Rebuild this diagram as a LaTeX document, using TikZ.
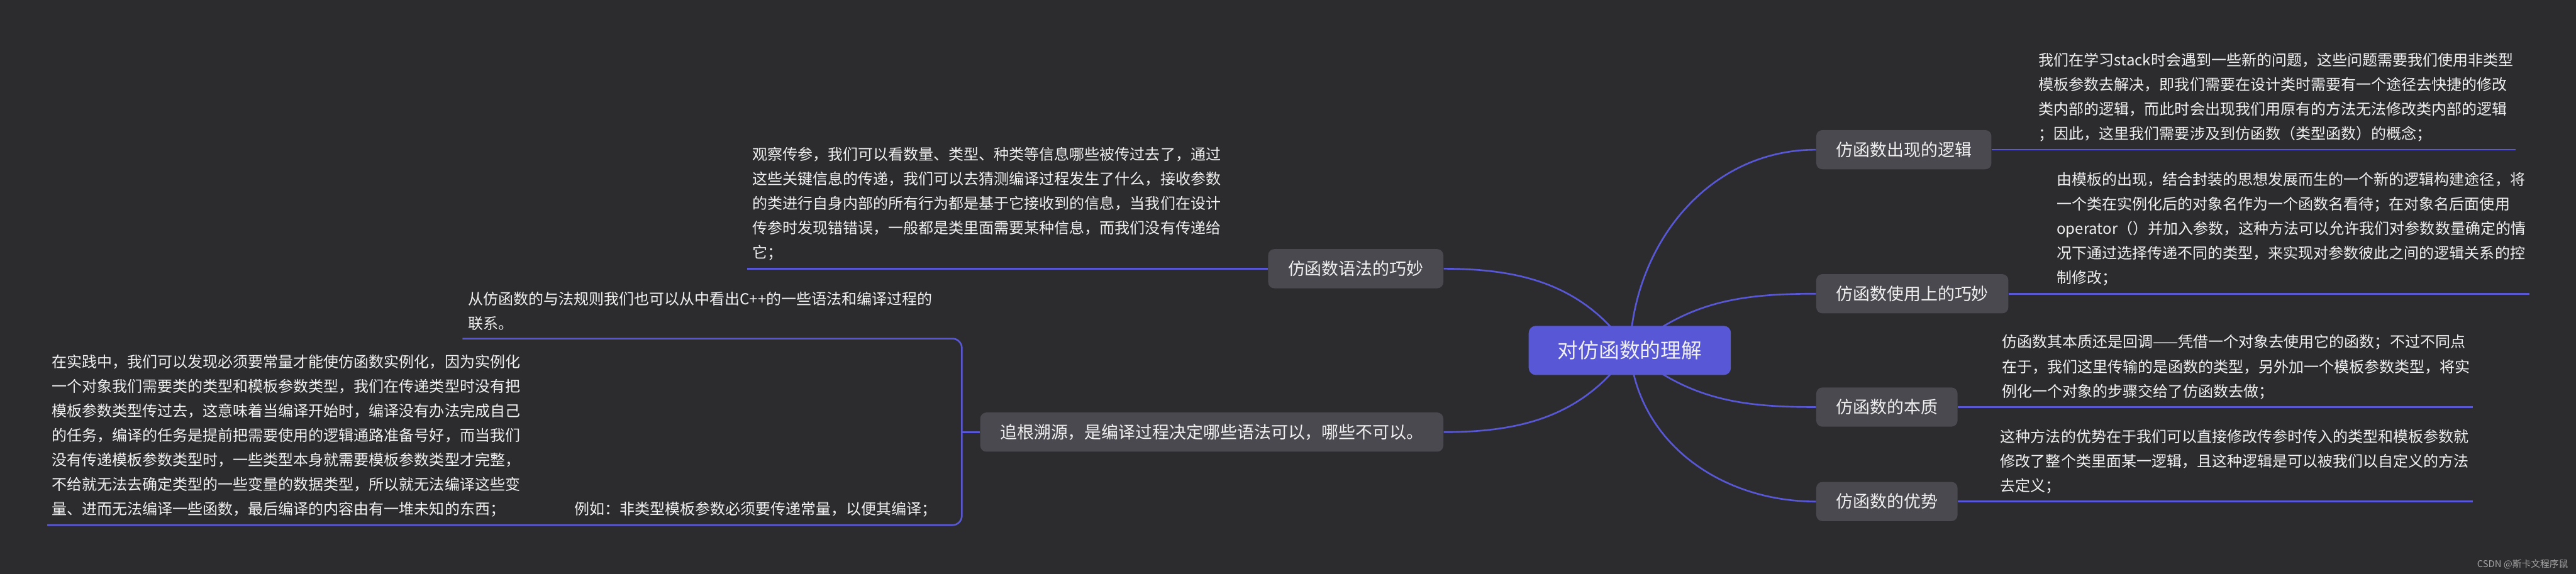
\documentclass[tikz,border=0pt]{standalone}
\usepackage{fontspec}
\setmainfont{Noto Sans CJK SC}
\usepackage{tikz}

\definecolor{bgdark}{RGB}{44,44,47}
\definecolor{rootblue}{RGB}{88,87,214}
\definecolor{boxgray}{RGB}{74,73,79}
\definecolor{inkwhite}{RGB}{240,240,240}
\definecolor{markgray}{RGB}{165,165,165}

\begin{document}
\begin{tikzpicture}[
    link/.style={rootblue, line width=1pt},
    root/.style={fill=rootblue, rounded corners=0.15cm, text=inkwhite,
      minimum width=4.28cm, minimum height=1.04cm, font=\fontsize{12.4pt}{14pt}\selectfont},
    branch/.style={fill=boxgray, rounded corners=0.13cm, text=inkwhite,
      minimum height=0.83cm, inner xsep=0.42cm, font=\fontsize{10.2pt}{12pt}\selectfont},
    leaf/.style={anchor=south west, align=left, inner sep=0pt, text=inkwhite,
      font=\fontsize{9.1pt}{14.8pt}\selectfont}]
    % Canvas with the reference's margins.
    \fill[bgdark] (0,0) rectangle (54.53,-12.15);
    \useasboundingbox (0,0) rectangle (54.53,-12.15);
    \coordinate (c) at (34.50,-7.42);

    % First-level topics.
    \node[branch, anchor=west] (logic) at (38.44,-3.17) {仿函数出现的逻辑};
    \node[branch, anchor=west] (usage) at (38.44,-6.22) {仿函数使用上的巧妙};
    \node[branch, anchor=west] (nature) at (38.44,-8.62) {仿函数的本质};
    \node[branch, anchor=west] (merit) at (38.44,-10.62) {仿函数的优势};
    \node[branch, anchor=east] (syntax) at (30.56,-5.69) {仿函数语法的巧妙};
    \node[branch, anchor=east, minimum width=9.72cm] (origin) at (30.56,-9.15)
      {追根溯源，是编译过程决定哪些语法可以，哪些不可以。};

    % Curved links out of the central topic.
    \draw[link] (c) to[out=88, in=180] (logic.west);
    \draw[link] (c) to[out=40, in=180] (usage.west);
    \draw[link] (c) to[out=-40, in=180] (nature.west);
    \draw[link] (c) to[out=-85, in=180] (merit.west);
    \draw[link] (c) to[out=125, in=0] (syntax.east);
    \draw[link] (c) to[out=-125, in=0] (origin.east);

    % Central topic on top of the links.
    \node[root] (root) at (c) {对仿函数的理解};

    % Right-hand notes, each sitting on its underline.
    \coordinate (logicEnd) at (53.25,-3.17);
    \draw[link] (logic.east) -- (logicEnd);
    \node[leaf] (logicText) at (43.15,-3.01) {我们在学习stack时会遇到一些新的问题，这些问题需要我们使用非类型\\
      模板参数去解决，即我们需要在设计类时需要有一个途径去快捷的修改\\
      类内部的逻辑，而此时会出现我们用原有的方法无法修改类内部的逻辑\\
      ；因此，这里我们需要涉及到仿函数（类型函数）的概念；};

    \coordinate (usageEnd) at (53.54,-6.22);
    \draw[link] (usage.east) -- (usageEnd);
    \node[leaf] (usageText) at (43.53,-6.06) {由模板的出现，结合封装的思想发展而生的一个新的逻辑构建途径，将\\
      一个类在实例化后的对象名作为一个函数名看待；在对象名后面使用\\
      operator（）并加入参数，这种方法可以允许我们对参数数量确定的情\\
      况下通过选择传递不同的类型，来实现对参数彼此之间的逻辑关系的控\\
      制修改；};

    \coordinate (natureEnd) at (52.35,-8.62);
    \draw[link] (nature.east) -- (natureEnd);
    \node[leaf] (natureText) at (42.37,-8.46) {仿函数其本质还是回调——凭借一个对象去使用它的函数；不过不同点\\
      在于，我们这里传输的是函数的类型，另外加一个模板参数类型，将实\\
      例化一个对象的步骤交给了仿函数去做；};

    \coordinate (meritEnd) at (52.35,-10.62);
    \draw[link] (merit.east) -- (meritEnd);
    \node[leaf] (meritText) at (42.34,-10.46) {这种方法的优势在于我们可以直接修改传参时传入的类型和模板参数就\\
      修改了整个类里面某一逻辑，且这种逻辑是可以被我们以自定义的方法\\
      去定义；};

    % Left-hand notes.
    \coordinate (syntaxEnd) at (15.82,-5.69);
    \draw[link] (syntax.west) -- (syntaxEnd);
    \node[leaf] (syntaxText) at (15.92,-5.53) {观察传参，我们可以看数量、类型、种类等信息哪些被传过去了，通过\\
      这些关键信息的传递，我们可以去猜测编译过程发生了什么，接收参数\\
      的类进行自身内部的所有行为都是基于它接收到的信息，当我们在设计\\
      传参时发现错错误，一般都是类里面需要某种信息，而我们没有传递给\\
      它；};

    % Bracket that fans out from the last left topic.
    \coordinate (fork) at (20.36,-9.15);
    \coordinate (ruleEnd) at (9.79,-7.17);
    \coordinate (practiceEnd) at (1.00,-11.12);
    \draw[link] (origin.west) -- (fork);
    \draw[link, rounded corners=0.2cm] (ruleEnd) -- (ruleEnd -| fork) -- (practiceEnd -| fork) -- (practiceEnd);
    \node[leaf] (ruleText) at (9.90,-7.01) {从仿函数的与法规则我们也可以从中看出C++的一些语法和编译过程的\\
      联系。};
    \node[leaf] (exampleText) at (12.15,-10.96) {例如：非类型模板参数必须要传递常量，以便其编译；};
    \node[leaf] (practiceText) at (1.09,-10.96) {在实践中，我们可以发现必须要常量才能使仿函数实例化，因为实例化\\
      一个对象我们需要类的类型和模板参数类型，我们在传递类型时没有把\\
      模板参数类型传过去，这意味着当编译开始时，编译没有办法完成自己\\
      的任务，编译的任务是提前把需要使用的逻辑通路准备号好，而当我们\\
      没有传递模板参数类型时，一些类型本身就需要模板参数类型才完整，\\
      不给就无法去确定类型的一些变量的数据类型，所以就无法编译这些变\\
      量、进而无法编译一些函数，最后编译的内容由有一堆未知的东西；};

    % Watermark.
    \node[anchor=east, inner sep=0pt, text=markgray, font=\fontsize{5.6pt}{7pt}\selectfont] (mark) at (54.37,-11.95) {CSDN @斯卡文程序鼠};
\end{tikzpicture}
\end{document}
